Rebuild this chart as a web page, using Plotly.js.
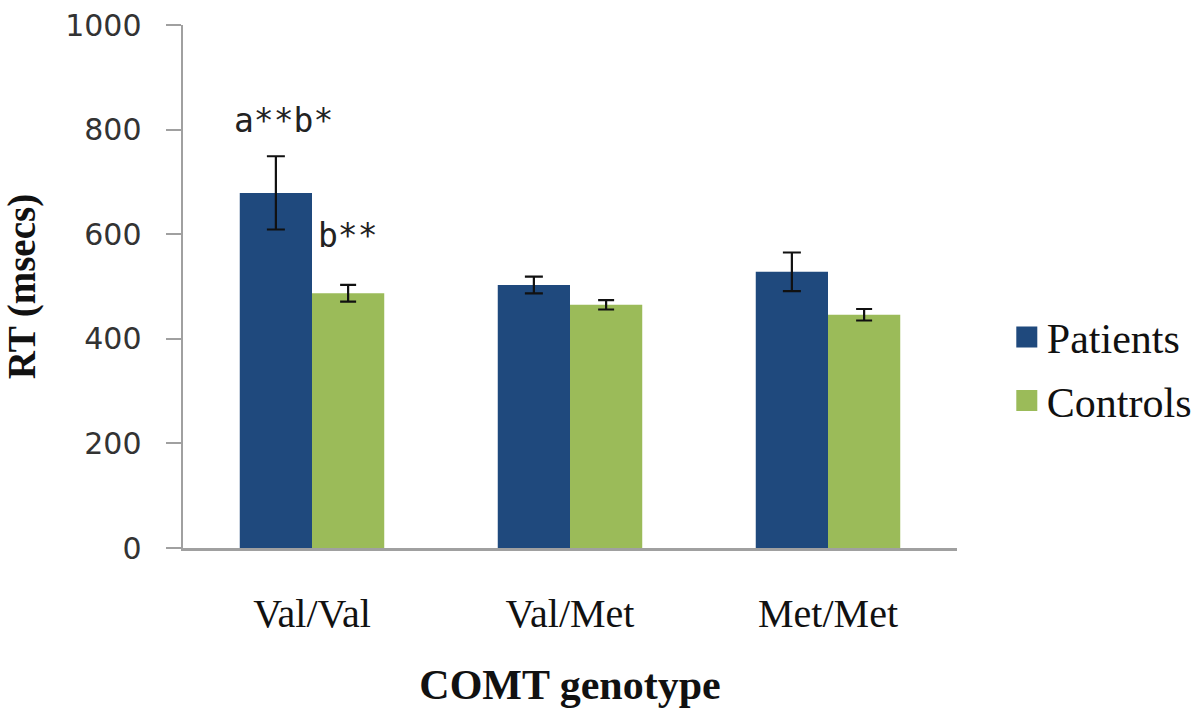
<!DOCTYPE html>
<html>
<head>
<meta charset="utf-8">
<script src="https://cdn.plot.ly/plotly-3.0.1.min.js"></script>
<style>html,body{margin:0;padding:0;background:#fff;}#chart{width:1200px;height:721px;}</style>
</head>
<body>
<div id="chart"></div>
<script>
const categories = ["Val/Val", "Val/Met", "Met/Met"];
const patients = [679, 503, 528];
const patientsErr = [70, 16, 37];
const controls = [487, 465, 446];
const controlsErr = [16, 9, 11];
const yTicks = [0, 200, 400, 600, 800, 1000];

const traces = [
  {
    type: "bar", name: "Patients", x: categories, y: patients,
    marker: {color: "#1F497D"}, legendgroup: "p",
    error_y: {type: "data", array: patientsErr, visible: true, color: "#111", thickness: 2.2, width: 9}
  },
  {
    type: "bar", name: "Controls", x: categories, y: controls,
    marker: {color: "#9BBB59"}, legendgroup: "c",
    error_y: {type: "data", array: controlsErr, visible: true, color: "#111", thickness: 2.2, width: 8}
  }
];

const layout = {
  width: 1200, height: 721,
  margin: {l: 183, r: 243, t: 25, b: 173, autoexpand: false},
  paper_bgcolor: "#fff", plot_bgcolor: "#fff",
  barmode: "group", bargap: 0.44, bargroupgap: 0,
  showlegend: true,
  legend: {
    xref: "container", yref: "container",
    x: 0.839, y: 0.488, xanchor: "left", yanchor: "middle",
    font: {family: "Liberation Serif", size: 42, color: "#111"},
    traceorder: "grouped", tracegroupgap: 6, bgcolor: "rgba(0,0,0,0)"
  },
  xaxis: {
    type: "category", showgrid: false, zeroline: false,
    showline: true, linecolor: "#a0a0a0", linewidth: 2.5,
    ticks: "", ticklabelstandoff: 28,
    tickfont: {family: "Liberation Serif", size: 40, color: "#111"},
    title: {text: "<b>COMT genotype</b>", font: {family: "Liberation Serif", size: 42, color: "#111"}, standoff: 35}
  },
  yaxis: {
    range: [0, 1000], tickvals: yTicks, ticktext: yTicks.map(String),
    showgrid: false, zeroline: false,
    showline: true, linecolor: "#a0a0a0", linewidth: 2.5,
    ticks: "outside", ticklen: 15, tickwidth: 2, tickcolor: "#a0a0a0",
    ticklabelstandoff: 18,
    tickfont: {family: "DejaVu Sans", size: 30, color: "#333"},
    title: {text: "<b>RT (msecs)</b>", font: {family: "Liberation Serif", size: 39, color: "#111"}, standoff: 28}
  },
  annotations: [
    {xref: "x", yref: "y", x: "Val/Val", xshift: -29, y: 818, yanchor: "middle",
     text: "a**b*", showarrow: false, font: {family: "DejaVu Sans Mono", size: 33, color: "#222"}},
    {xref: "x", yref: "y", x: "Val/Val", xshift: 36, y: 597, yanchor: "middle",
     text: "b**", showarrow: false, font: {family: "DejaVu Sans Mono", size: 33, color: "#222"}}
  ]
};

Plotly.newPlot("chart", traces, layout, {displayModeBar: false, staticPlot: true}).then(function (gd) {
  document.querySelectorAll("#chart .legendpoints path").forEach(function (p) {
    if (p.closest(".legendbar") || p.classList.contains("legendundefined")) {
      p.setAttribute("d", "M10.5,10.5H-10.5V-10.5H10.5Z");
    }
  });
});
</script>
</body>
</html>
